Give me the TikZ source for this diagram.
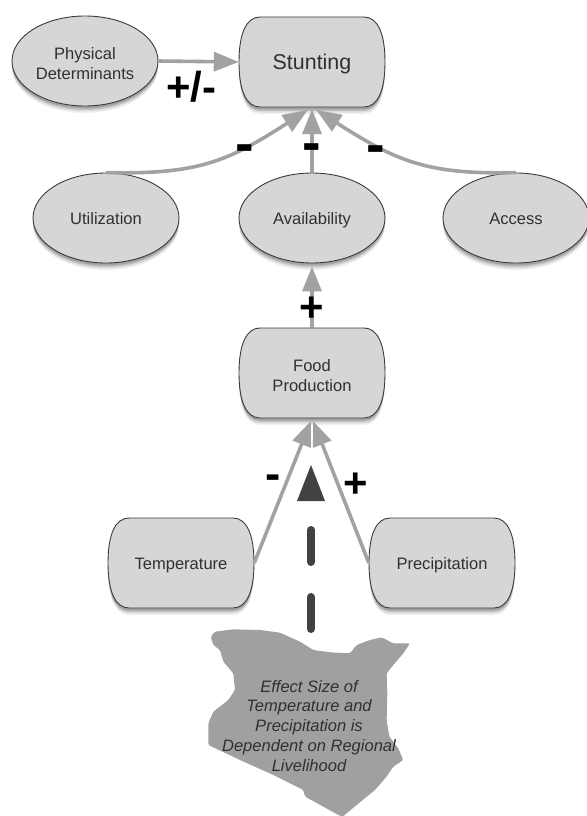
\documentclass[tikz,border=0pt]{standalone}
\usepackage{fontspec}
\setmainfont{Liberation Sans}
\usetikzlibrary{arrows.meta,shapes.geometric}
\definecolor{boxfill}{HTML}{D6D6D6}
\definecolor{boxline}{HTML}{3A3A3A}
\definecolor{arrowgrey}{HTML}{A2A2A2}
\definecolor{txt}{HTML}{303030}
\definecolor{darkmark}{HTML}{424242}
\definecolor{land}{HTML}{A0A0A0}
\newcommand{\softpath}[2]{(#1-52,#2-45) -- (#1+52,#2-45) .. controls (#1+66,#2-45) and (#1+73,#2-28) .. (#1+73,#2) .. controls (#1+73,#2+28) and (#1+66,#2+45) .. (#1+52,#2+45) -- (#1-52,#2+45) .. controls (#1-66,#2+45) and (#1-73,#2+28) .. (#1-73,#2) .. controls (#1-73,#2-28) and (#1-66,#2-45) .. (#1-52,#2-45) -- cycle}
\newcommand{\softshadow}[2]{%
  \foreach \d/\o in {7/.06,5.5/.08,4/.12,2.5/.16}{\fill[black,opacity=\o,yshift=-\d bp] \softpath{#1}{#2};}}
\newcommand{\ovalshadow}[2]{%
  \foreach \d/\o in {7/.06,5.5/.08,4/.12,2.5/.16}{\fill[black,opacity=\o,yshift=-\d bp] (#1,#2) ellipse [x radius=73,y radius=45];}}
\newcommand{\dn}{\rule{0pt}{16.5bp}}
\newcommand{\dnsmall}{\rule{0pt}{14bp}}
\begin{document}
\begin{tikzpicture}[x=1bp,y=-1bp,
  label text/.style={text=txt,align=center,inner sep=0pt,font=\fontsize{16.6}{20}\selectfont},
  softbox/.style={label text,minimum width=146bp,minimum height=90bp},
  ovalbox/.style={label text,shape=ellipse,draw=boxline,fill=boxfill,line width=.9pt,minimum width=146bp,minimum height=90bp},
  softline/.style={draw=boxline,fill=boxfill,line width=.9pt},
  link/.style={draw=arrowgrey,line width=3.6pt,-{Triangle[length=25bp,width=19bp]}},
  sign/.style={text=black,inner sep=0pt,font=\bfseries\fontsize{42}{42}\selectfont},
  bar/.style={text=black,inner sep=0pt,font=\bfseries\fontsize{56}{56}\selectfont},
  dashlink/.style={draw=darkmark,line width=8pt,line cap=round,dash pattern=on 32bp off 35bp}]
\useasboundingbox (0,0) rectangle (587,816);
% Kenya
\begin{scope}[shift={(190,620)},x=.3333bp,y=-.3333bp]
\fill[land,rounded corners=1.5bp] (62,50) -- (75,35) -- (130,28) -- (210,30) -- (270,38) -- (330,65) -- (370,90) -- (420,97) -- (480,100) -- (500,75) -- (540,60) -- (575,52) -- (610,70) -- (660,70) -- (640,100) -- (610,135) -- (590,160) -- (592,220) -- (590,300) -- (598,350) -- (625,385) -- (640,420) -- (610,440) -- (590,470) -- (555,510) -- (500,555) -- (458,590) -- (445,585) -- (400,560) -- (345,530) -- (340,510) -- (250,465) -- (150,420) -- (55,375) -- (55,310) -- (70,275) -- (115,240) -- (135,210) -- (130,160) -- (100,125) -- (90,90) -- (70,75) -- cycle;
\end{scope}
\node[label text,font=\itshape\fontsize{16.6}{20}\selectfont] (kenya) at (309,726) {Effect Size of\\Temperature and\\Precipitation is\\Dependent on Regional\\Livelihood};
% shadows and outlines
\ovalshadow{85}{61}\ovalshadow{106}{218}\ovalshadow{312}{218}\ovalshadow{516}{218}
\softshadow{312}{62}\softshadow{312}{373}\softshadow{181}{563}\softshadow{442}{563}
\path[softline] \softpath{312}{62};
\path[softline] \softpath{312}{373};
\path[softline] \softpath{181}{563};
\path[softline] \softpath{442}{563};
% nodes
\node[softbox,font=\fontsize{21.5}{24}\selectfont] (stun) at (312,62) {\rule{0pt}{20bp}Stunting};
\node[softbox] (food) at (312,373) {\dn Food\\Production};
\node[softbox] (temp) at (181,563) {\dn Temperature};
\node[softbox] (prec) at (442,563) {\dn Precipitation};
\node[ovalbox] (phys) at (85,61) {\dn Physical\\Determinants};
\node[ovalbox] (util) at (106,218) {\dnsmall Utilization};
\node[ovalbox] (avail) at (312,218) {\dn Availability};
\node[ovalbox] (acc) at (516,218) {\dnsmall Access};
% connectors
\draw[link] (phys.east) -- (stun.west);
\draw[link,shorten >=5bp] (util.north) .. controls (200,175) and (230,160) .. (stun.south);
\draw[link,shorten >=5bp] (acc.north) .. controls (425,175) and (395,160) .. (stun.south);
\draw[link,shorten >=2bp] (avail.north) -- (stun.south);
\draw[link,shorten >=3bp] (food.north) -- (avail.south);
\draw[link,shorten >=3bp] (temp.east) -- (food.south);
\draw[link,shorten >=3bp] (prec.west) -- (food.south);
% effect marker
\coordinate (tip) at (311,465);
\coordinate (kenyatop) at (311,629);
\coordinate (dashend) at (311,530);
\fill[darkmark] (tip) -- (325,501) -- (297,501) -- cycle;
\draw[dashlink] (kenyatop) -- (dashend);
% signs
\node[sign] (s1) at (191,87) {+/-};
\node[bar] (m1) at (245,154) {-};
\node[bar] (m2) at (312,153) {-};
\node[bar] (m3) at (376,155) {-};
\node[sign] (s2) at (312,309) {+};
\node[bar,font=\bfseries\fontsize{46}{46}\selectfont] (m4) at (273,482) {-};
\node[sign] (s3) at (356,485) {+};
\end{tikzpicture}
\end{document}
